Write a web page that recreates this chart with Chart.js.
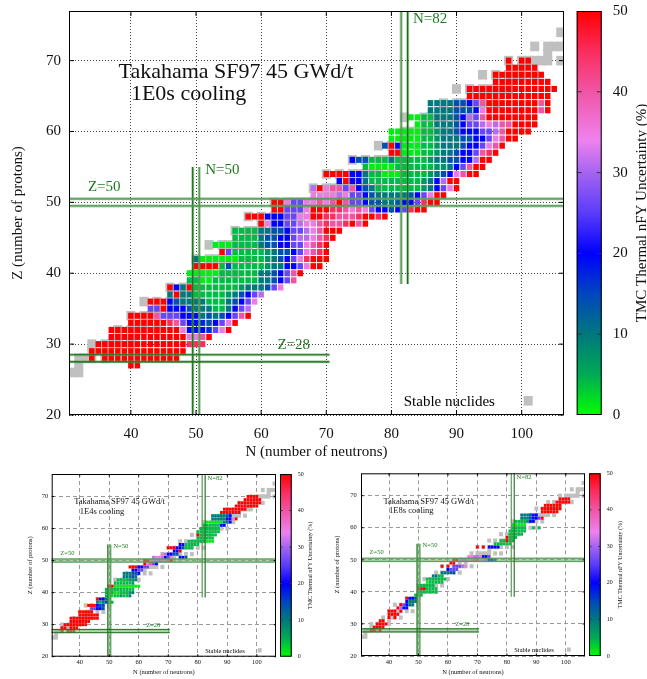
<!DOCTYPE html>
<html>
<head>
<meta charset="utf-8">
<script src="https://cdn.jsdelivr.net/npm/chart.js@4.4.0/dist/chart.umd.min.js"></script>
<style>
  html, body { margin: 0; padding: 0; background: #fff; }
  body { width: 647px; height: 679px; position: relative; overflow: hidden; }
  canvas { position: absolute; }
</style>
</head>
<body>
<canvas id="main" width="647" height="462" style="left:0;top:0;width:647px;height:462px"></canvas>
<canvas id="e4" width="323" height="217" style="left:0;top:462px;width:323px;height:217px"></canvas>
<canvas id="e8" width="324" height="217" style="left:323px;top:462px;width:324px;height:217px"></canvas>
<script>
// uncertainty classes (%)
const G = 1, g = 4, d = 7, T = 10, S = 14, b = 17, B = 20, V = 26, L = 31, O = 35, P = 40, C = 45, R = 50, _ = null;

// axis ticks
const nTicks = [40, 50, 60, 70, 80, 90, 100];
const zTicks = [20, 30, 40, 50, 60, 70];
const cbTicks = [0, 10, 20, 30, 40, 50];

// colour palette of the colour box
const paletteVals = [0, 5, 10, 15, 20, 25, 30, 34, 40, 45, 50];
const paletteRGB = [[0,255,0],[0,170,85],[0,120,125],[0,70,190],[0,0,255],[90,60,250],[165,100,240],[238,130,238],[240,85,165],[250,45,95],[255,0,0]];

// stable nuclides (gray)
const stableZ = [26,27,28,29,30,31,32,33,34,35,36,37,38,39,40,41,42,43,44,45,46,47,48,49,50,51,52,53,54,55,56,57,58,59,60,61,62,63,64,65,66,67,68,69,70,71,72,73,74];
const stableN = [
  [28,30,31,32],[32],[30,32,33,34,36],[34,36],[34,36,37,38,40],[38,40],[38,40,41,42,44],[42],
  [40,42,43,44,46,48],[44,46],[42,44,46,47,48,50],[48],[46,48,49,50],[50],[50,51,52,54,56],[52],
  [50,52,53,54,55,56,58],[],[52,54,55,56,57,58,60],[58],[56,58,59,60,62,64],[60,62],
  [58,60,62,63,64,65,66,68],[64,66],[62,64,65,66,67,68,69,70,72,74],[70,72],[68,70,71,72,73,74,76,78],[74],
  [70,72,74,75,76,77,78,80,82],[78],[74,76,78,79,80,81,82],[81,82],[78,80,82,84],[82],[82,83,84,85,86,88,90],[],
  [82,85,86,87,88,90,92],[88,90],[88,90,91,92,93,94,96],[94],[90,92,94,95,96,97,98],[98],[94,96,98,99,100,102],[100],
  [98,100,101,102,103,104,106],[104],[102,104,105,106,108],[107,108],[106,108,109,110,112]
];

// 1E0s cooling: proton number, first neutron number, values along the row
const mainZ = [27,28,29,30,31,32,33,34,35,36,37,38,39,40,41,42,43,44,45,46,47,48,49,50,51,52,53,54,55,56,57,58,59,60,61,62,63,64,65,66,67,68,69,70];
const mainN0 = [40,34,34,35,37,37,40,40,43,43,46,46,49,49,50,50,54,53,56,56,60,58,62,62,68,68,72,70,76,74,80,79,80,80,84,83,86,86,92,92,96,96,98,98];
const mainV = [
  [R,R],
  [R,_,R,R,R,R,R,R,R,R,R,R,R,R],
  [R,R,R,R,R,R,R,R,R,R,R,R,R,R,R],
  [R,R,R,R,R,R,R,R,R,R,R,R,R,R,C,C,C],
  [R,R,R,R,R,R,R,R,R,R,R,R,O,O,P,R],
  [R,R,R,R,R,R,R,R,R,R,R,O,B,B,B,b,V,O,R],
  [R,R,R,R,R,R,C,P,V,B,B,b,S,B,V,O,R],
  [R,R,R,R,P,V,V,V,B,B,B,T,S,T,S,B,V,P,R],
  [V,V,R,B,B,B,S,T,T,T,g,g,T,B,V,L],
  [R,R,R,B,S,T,T,T,T,g,g,g,T,S,B,V,O],
  [T,R,T,T,g,g,g,g,g,d,T,S,B,V,L],
  [R,B,T,R,g,g,g,g,g,g,g,d,T,T,T,S,V,O],
  [g,g,G,G,g,g,g,g,g,g,g,T,T,S,B,V,P],
  [G,G,G,G,G,g,g,g,g,g,g,T,T,S,B,V,P,R],
  [R,R,R,R,g,S,g,g,g,g,g,d,T,T,B,B,V,O,R,R],
  [T,G,G,G,G,G,G,g,g,g,g,d,T,S,B,V,O,C,R,R,R],
  [R,V,g,g,g,g,g,d,T,S,S,B,V,O,P,C,R],
  [G,G,G,g,g,g,g,T,S,S,B,B,V,V,O,P,C,R],
  [g,g,g,g,T,S,S,B,B,V,L,L,O,P,C,R],
  [g,g,g,g,T,T,S,S,B,V,V,L,O,P,R,R,R],
  [R,O,B,B,V,V,L,O,O,P,C,P,P,C,R,P,R],
  [R,R,R,B,B,B,V,V,O,O,R,R,C,C,P,P,P,C,R,R,C,R],
  [R,R,V,V,V,O,R,R,R,C,C,P,O,P,O,V,B,B,S,B,V,C,R,R],
  [R,R,O,V,V,O,O,P,O,P,R,P,V,V,B,S,S,T,T,S,B,B,V,C,R,R],
  [O,O,O,O,L,O,V,V,B,S,T,T,T,T,T,S,B,V,O,R,R],
  [L,R,O,P,P,V,P,B,S,T,g,g,g,g,g,g,g,d,T,B,V,O,R],
  [B,R,B,B,T,g,g,g,g,g,g,g,g,d,T,B,L,R,R],
  [R,R,R,R,B,B,T,g,g,G,G,G,g,g,g,g,d,T,S,B,O,P,R,R],
  [g,G,G,G,G,g,g,g,g,g,g,d,d,T,B,V,P,R,R],
  [B,S,S,g,g,g,T,g,g,g,g,g,d,T,T,S,S,B,B,L,R,R],
  [R,R,G,G,G,g,g,d,T,T,S,B,B,V,P,C,R],
  [S,R,B,G,G,G,g,g,d,T,T,T,S,B,B,V,O,P,R],
  [G,G,G,G,G,g,g,d,T,T,T,S,S,B,B,V,O,P,R,R],
  [G,G,G,G,G,g,g,d,T,T,S,B,B,B,V,V,L,P,R,R,R,R],
  [G,g,g,T,T,T,S,B,V,V,L,O,L,P,P,R,R,R,R],
  [G,G,g,g,T,T,T,S,B,L,V,P,R,R,R,R,R,R,R,R],
  [T,T,T,T,S,S,S,B,O,R,R,R,R,R,R,R,R,P,R],
  [T,T,T,T,S,S,B,V,P,R,R,R,R,R,R,R,R,P,R],
  [R,R,R,R,R,R,R,R,R,R,R,R,R],
  [R,R,R,R,R,R,R,R,R,R,R,R,R,R],
  [R,R,R,R,R,R,R,R,R],
  [R,R,R,R,R,R,R,R],
  [R,R,R,R,R],
  [R,_,R,R]
];

// 1E4s cooling
const e4Z = [28,29,30,31,32,33,34,35,36,37,38,39,40,41,42,43,44,45,46,47,48,49,50,51,52,53,54,55,56,57,58,59,60,61,62,63,64,65,66,67,68,69,70];
const e4N0 = [34,34,35,37,37,40,40,44,43,46,46,49,49,49,50,52,53,55,55,58,57,62,62,65,68,72,70,74,77,80,80,80,81,82,83,85,85,88,89,93,94,96,97];
const e4V = [
  [R,_,R,R,R],[R,R,_,R,R,R],[R,R,R,R,R,R,R,R],[R,R,R,R,R,R,R],[R,R,R,R,R,R,R,R,R,R],
  [R,R,R,R,R,R,R],[R,R,R,R,R],[V,V,B,B,S],[R,R,R,B,S,S],[T,g,T,S,g,g],[R,B,B,T,g],
  [g,g,G,g,g,d,g,g,T],[g,g,g,G,G,g,g,g,d,T],[g,g,g,g,g,g,g,g,g,g],[R,R,G,G,G,G,G,G,G,G,G],
  [g,g,g,g,g,g,d],[g,g,g,g,d,d,T],[T,T,T,S,T],[T,T,T,S,S,B],[B,B,V,V],[R,R,R,B,B,V,V],
  [R,O,P,V,B],[R,R,O,O,L,L,O,O,P,R],[L,O,O,L,B,V,O,_,_,B,B,S],[O,L,B,B,S,S],[B,B,R],
  [R,R,R,B,B,S,g,g,g],[B,B,g,g,g,g,g],[g,g,g,g,g,g,G,G,G],[g,g,g,g,g,g],[R,g,g,g,g,g,g],
  [g,g,g,g,g,g,g,g],[g,g,g,g,g,g,g],[g,g,g,g,g,g,B,B],[G,G,G,G,G,G,T,T,B],
  [T,T,T,T,T,B,B,O,R],[T,T,T,T,T,S,B],[R,R,R,R,R,R,R],[R,R,R,R,R,R,R,R],
  [R,R,R,R,R,R,R,R],[R,R,R,R,R,R,R,R],[R,R,R,R,R,R],[R,R,R,R]
];

// 1E8s cooling
const e8Z = [28,29,30,31,32,33,34,35,36,37,38,39,40,41,42,43,44,45,46,47,48,49,50,51,54,55,56,57,58,59,60,61,62,63,64,65,66,67,68,69];
const e8N0 = [34,35,36,37,40,40,40,43,44,46,46,49,50,50,50,53,53,55,58,60,58,61,62,67,70,76,78,80,81,81,82,82,83,85,85,92,92,93,97,98];
const e8V = [
  [R,R,_,R],[R,R,R,R],[R,R,R,R],[R,R],[R,_,R],[R,R,R,R],[R,R,R,_,R],[R,L,B,B],[R,V,B,T,T],
  [B,T,T,T],[R,B,B,S],[g,g,g],[g,g,g,g,g,g,g],[R,R,R,g,g,g,g],[g,g,g,g,g,g],[G,g,g,g,g,g],
  [g,g,g,g,g,g,g],[T,T,g,g],[T,T,T,S,S],[B,V,V,V],[R,_,R,_,V,V,V,L,O],[R,R],
  [R,R,O,L,L,O,O,P,P,O,O,L,B,B,S],[O,O,L,L,O,B,B,V],[R,_,R,_,B,B,B,B],[g,g,g,g,g,g],
  [g,g,R,g,g],[R,g,g,g],[g,g,g,g,g],[g,g,g,g,g,g],[g,g,g,g,g,_,_,g,_,g],[G,G,G,G,G],
  [g,g,g,g,d,B,B],[T,T,T,S,B,B,V,R],[T,T,T,S,B,B],[R,R,R,R,R,R],[R,R,R,R,R,R,R],
  [R,R,R,R,R,R],[R,R,R,R,R],[R,R,R,R]
];

Chart.defaults.font.family = '"Liberation Serif", "DejaVu Serif", serif';
Chart.defaults.color = '#000';

function colorFor(v) {
  v = Math.max(0, Math.min(50, v));
  for (let i = 1; i < paletteVals.length; i++) {
    if (v <= paletteVals[i]) {
      const t = (v - paletteVals[i - 1]) / (paletteVals[i] - paletteVals[i - 1]);
      const a = paletteRGB[i - 1], c = paletteRGB[i];
      return 'rgb(' + a.map((k, j) => Math.round(k + (c[j] - k) * t)).join(',') + ')';
    }
  }
  return 'rgb(255,0,0)';
}

function rowsToPoints(zs, n0s, vals) {
  const pts = [];
  zs.forEach((z, i) => vals[i].forEach((v, k) => {
    if (v !== null) pts.push({ x: n0s[i] + k, y: z, v: v });
  }));
  return pts;
}

function stablePoints() {
  const pts = [];
  stableZ.forEach((z, i) => stableN[i].forEach(n => pts.push({ x: n, y: z })));
  return pts;
}

// drawing of the nuclide cells, reference lines, texts and colour box
const nuclidePlugin = {
  id: 'nuclide',
  beforeDatasetsDraw(chart, args, o) {
    const { ctx, chartArea: a, scales: { x, y } } = chart;
    const dx = x.getPixelForValue(1) - x.getPixelForValue(0);
    const dy = y.getPixelForValue(0) - y.getPixelForValue(1);
    ctx.save();
    ctx.beginPath();
    ctx.rect(a.left, a.top, a.width, a.height);
    ctx.clip();
    ctx.fillStyle = '#c0c0c0';
    chart.data.datasets[0].data.forEach(p => {
      const w = dx + o.stablePad, h = dy + o.stablePad;
      ctx.fillRect(x.getPixelForValue(p.x) - w / 2, y.getPixelForValue(p.y) - h / 2, w, h);
    });
    chart.data.datasets[1].data.forEach(p => {
      const w = dx - o.cellGap, h = dy - o.cellGap;
      ctx.fillStyle = colorFor(p.v);
      ctx.fillRect(x.getPixelForValue(p.x) - w / 2, y.getPixelForValue(p.y) - h / 2, w, h);
    });
    ctx.restore();
  },
  afterDatasetsDraw(chart, args, o) {
    const { ctx, chartArea: a, scales: { x, y } } = chart;
    const px = v => x.getPixelForValue(v), py = v => y.getPixelForValue(v);
    ctx.save();

    // shell closure bands / lines
    if (o.fillBands) {
      ctx.fillStyle = 'rgba(110,175,110,0.55)';
      ctx.fillRect(px(49.5), py(55), px(50.5) - px(49.5), py(20) - py(55));
      ctx.fillRect(px(30.5), py(50.5), px(106.5) - px(30.5), py(49.5) - py(50.5));
      ctx.fillRect(px(30.5), py(28.5), px(70.5) - px(30.5), py(27.5) - py(28.5));
    }
    const lines = [
      [49.5, 20, 49.5, 55, 1], [50.5, 20, 50.5, 55, 0],
      [30.5, 49.5, 106.5, 49.5, 0], [30.5, 50.5, 106.5, 50.5, 0],
      [30.5, 27.5, 70.5, 27.5, 1], [30.5, 28.5, 70.5, 28.5, 1],
      [81.5, 38.5, 81.5, 77, 0], [82.5, 38.5, 82.5, 77, 1]
    ];
    lines.forEach(l => {
      ctx.beginPath();
      ctx.moveTo(px(l[0]), py(l[1]));
      ctx.lineTo(px(l[2]), py(l[3]));
      ctx.strokeStyle = 'rgba(90,160,90,0.5)';
      ctx.lineWidth = o.haloW;
      ctx.stroke();
      ctx.strokeStyle = l[4] ? '#0f650f' : '#4c964c';
      ctx.lineWidth = o.coreW;
      ctx.stroke();
    });

    // frame and inner tick marks
    ctx.strokeStyle = '#000';
    ctx.lineWidth = 1;
    ctx.strokeRect(a.left + 0.5, a.top + 0.5, a.width - 1, a.height - 1);
    ctx.beginPath();
    nTicks.forEach(n => {
      ctx.moveTo(px(n), a.bottom); ctx.lineTo(px(n), a.bottom - o.tickLen);
      ctx.moveTo(px(n), a.top); ctx.lineTo(px(n), a.top + o.tickLen);
    });
    zTicks.forEach(z => {
      ctx.moveTo(a.left, py(z)); ctx.lineTo(a.left + o.tickLen, py(z));
      ctx.moveTo(a.right, py(z)); ctx.lineTo(a.right - o.tickLen, py(z));
    });
    ctx.stroke();

    // texts
    ctx.fillStyle = '#111';
    ctx.textAlign = 'left';
    ctx.textBaseline = 'alphabetic';
    ctx.font = o.headFont + 'px "Liberation Serif"';
    ctx.fillText('Takahama SF97 45 GWd/t', px(38.1), py(67.5));
    ctx.fillText(o.cooling, px(40.0), py(64.5));

    ctx.fillStyle = '#1f7a1f';
    ctx.textBaseline = 'middle';
    ctx.font = o.labelFont + 'px "Liberation Serif"';
    ctx.fillText('N=82', px(83.3), py(75.8));
    ctx.fillText('N=50', px(51.4), py(54.5));
    ctx.fillText('Z=50', px(33.4), py(52.2));
    ctx.fillText('Z=28', px(62.5), py(29.9));
    ctx.fillStyle = '#000';
    ctx.textAlign = 'right';
    ctx.fillText('Stable nuclides', px(95.9), py(21.8));
    ctx.fillStyle = '#c0c0c0';
    const lw = px(1) - px(0) + o.stablePad, lh = py(0) - py(1) + o.stablePad;
    ctx.fillRect(px(101) - lw / 2, py(22) - lh / 2, lw, lh);

    // colour box
    const cx = a.right + o.cbGap, cw = o.cbWidth;
    const grad = ctx.createLinearGradient(0, a.bottom, 0, a.top);
    paletteVals.forEach((v, i) => grad.addColorStop(v / 50, 'rgb(' + paletteRGB[i].join(',') + ')'));
    ctx.fillStyle = grad;
    ctx.fillRect(cx, a.top, cw, a.height);
    ctx.strokeStyle = '#000';
    ctx.lineWidth = 1;
    ctx.strokeRect(cx + 0.5, a.top + 0.5, cw - 1, a.height - 1);
    ctx.strokeStyle = '#333';
    ctx.beginPath();
    ctx.fillStyle = '#111';
    ctx.textAlign = 'left';
    ctx.textBaseline = 'middle';
    ctx.font = o.cbFont + 'px "Liberation Serif"';
    cbTicks.forEach(v => {
      const yy = a.bottom - (v / 50) * a.height;
      if (v > 0 && v < 50) {
        ctx.moveTo(cx, yy); ctx.lineTo(cx + o.tickLen, yy);
        ctx.moveTo(cx + cw, yy); ctx.lineTo(cx + cw - o.tickLen, yy);
      }
      ctx.fillText(String(v), cx + cw + o.cbLabelGap, yy);
    });
    ctx.stroke();
    ctx.translate(o.cbTitleX, (a.top + a.bottom) / 2);
    ctx.rotate(-Math.PI / 2);
    ctx.textAlign = 'center';
    ctx.fillText('TMC Thermal nFY Uncertainty (%)', 0, 0);
    ctx.restore();
  }
};

function makeChart(id, zs, n0s, vals, s) {
  return new Chart(document.getElementById(id), {
    type: 'scatter',
    data: {
      datasets: [
        { label: 'Stable nuclides', data: stablePoints(), pointRadius: 0 },
        { label: 'TMC Thermal nFY Uncertainty (%)', data: rowsToPoints(zs, n0s, vals), pointRadius: 0 }
      ]
    },
    options: {
      responsive: false,
      animation: false,
      events: [],
      layout: { padding: { left: 0, top: s.padTop, right: s.padRight, bottom: 0 } },
      scales: {
        x: {
          type: 'linear', min: 30.5, max: 106.5,
          afterBuildTicks: sc => { sc.ticks = nTicks.map(v => ({ value: v })); },
          afterFit: sc => { sc.height = s.xH; sc.paddingLeft = 0; sc.paddingRight = 0; },
          grid: { color: s.gridColor, lineWidth: 1, drawTicks: false },
          border: { display: false, dash: s.gridDash },
          ticks: { font: { size: s.tickFont }, padding: s.xTickPad, color: '#111' },
          title: { display: true, text: 'N (number of neutrons)', font: { size: s.axisFont }, padding: { bottom: s.xTitlePad, top: 0 }, color: '#111' }
        },
        y: {
          type: 'linear', min: 20, max: 77,
          afterBuildTicks: sc => { sc.ticks = zTicks.map(v => ({ value: v })); },
          afterFit: sc => { sc.width = s.yW; sc.paddingTop = 0; sc.paddingBottom = 0; },
          grid: { color: s.gridColor, lineWidth: 1, drawTicks: false },
          border: { display: false, dash: s.gridDash },
          ticks: { font: { size: s.tickFont }, padding: s.yTickPad, color: '#111' },
          title: { display: true, text: 'Z (number of protons)', font: { size: s.axisFont }, padding: { top: s.yTitlePad, bottom: 0 }, color: '#111' }
        }
      },
      plugins: {
        legend: { display: false },
        tooltip: { enabled: false },
        nuclide: s.plug
      }
    },
    plugins: [nuclidePlugin]
  });
}

makeChart('main', mainZ, mainN0, mainV, {
  padTop: 11, padRight: 83, xH: 47, yW: 69,
  gridColor: '#444', gridDash: [1, 2], tickFont: 15, axisFont: 15,
  xTickPad: 10, yTickPad: 8, xTitlePad: 1, yTitlePad: 9,
  plug: { cooling: '1E0s cooling', stablePad: 2.5, cellGap: 1, haloW: 3, coreW: 1.2, fillBands: false,
          tickLen: 5, headFont: 22, labelFont: 15, cbGap: 12.7, cbWidth: 25, cbLabelGap: 11, cbFont: 15, cbTitleX: 642 }
});
makeChart('e4', e4Z, e4N0, e4V, {
  padTop: 12, padRight: 47, xH: 22.3, yW: 51.7,
  gridColor: '#999', gridDash: [4, 3], tickFont: 6.5, axisFont: 6.5,
  xTickPad: 2, yTickPad: 3.5, xTitlePad: 2.4, yTitlePad: 26,
  plug: { cooling: '1E4s cooling', stablePad: 1, cellGap: 0.2, haloW: 1.4, coreW: 0.8, fillBands: true,
          tickLen: 2.5, headFont: 8.5, labelFont: 6.5, cbGap: 4, cbWidth: 11.7, cbLabelGap: 6, cbFont: 6, cbTitleX: 310 }
});
makeChart('e8', e8Z, e8N0, e8V, {
  padTop: 11.3, padRight: 62, xH: 23, yW: 38,
  gridColor: '#999', gridDash: [4, 3], tickFont: 6.5, axisFont: 6.5,
  xTickPad: 2, yTickPad: 4.3, xTitlePad: 2.4, yTitlePad: 10,
  plug: { cooling: '1E8s cooling', stablePad: 1, cellGap: 0.2, haloW: 1.4, coreW: 0.8, fillBands: true,
          tickLen: 2.5, headFont: 8.5, labelFont: 6.5, cbGap: 4, cbWidth: 11.7, cbLabelGap: 6, cbFont: 6, cbTitleX: 297 }
});
</script>
</body>
</html>
